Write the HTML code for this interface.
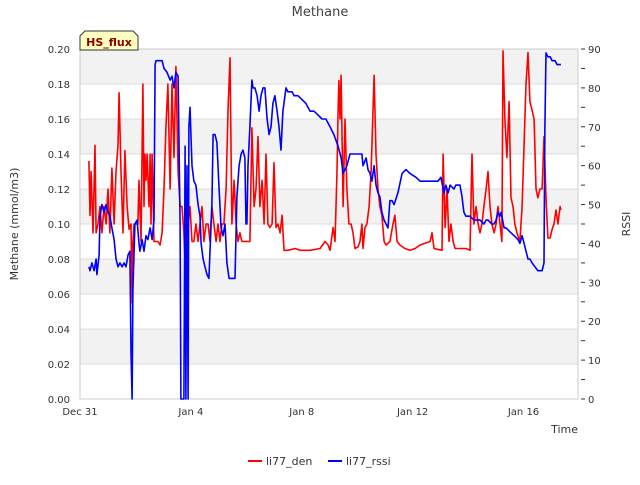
<!DOCTYPE html>
<html><head><meta charset="utf-8"><style>
body{margin:0;background:#fff;font-family:"Liberation Sans","DejaVu Sans",sans-serif}
svg text{font-family:"DejaVu Sans","Liberation Sans",sans-serif}
</style></head><body>
<svg id="chart" width="640" height="480" xmlns="http://www.w3.org/2000/svg">
<text x="320" y="16" text-anchor="middle" font-size="13" fill="#444">Methane</text>
<g id="bands"></g>
<g id="grid"></g>
<g id="axes"></g>
<g id="series"></g>
<text transform="translate(18,224) rotate(-90)" text-anchor="middle" font-size="11" fill="#333">Methane (mmol/m3)</text>
<text transform="translate(630,224) rotate(-90)" text-anchor="middle" font-size="11" fill="#333">RSSI</text>
<text x="578" y="433" text-anchor="end" font-size="11" fill="#333">Time</text>
<g>
<path d="M80,50 L80,36 L85,31 L133,31 L138,36 L138,50 Z" fill="#ffffc0" stroke="#333" stroke-width="1"/>
<text x="109" y="46" text-anchor="middle" font-size="11" font-weight="bold" fill="#8b0000">HS_flux</text>
</g>
<g>
<line x1="248" y1="461" x2="262" y2="461" stroke="#f00" stroke-width="2"/>
<text x="266" y="465" font-size="11" fill="#333">li77_den</text>
</g>
<g>
<line x1="328" y1="461" x2="342" y2="461" stroke="#00f" stroke-width="2"/>
<text x="346" y="465" font-size="11" fill="#333">li77_rssi</text>
</g>
</svg>
<script>
const xTickLabels=["Dec 31","Jan 4","Jan 8","Jan 12","Jan 16"];
const xTickDays=[0,4,8,12,16];
const leftTicks=[0,0.02,0.04,0.06,0.08,0.10,0.12,0.14,0.16,0.18,0.20];
const rightTicks=[0,10,20,30,40,50,60,70,80,90];
const denDays=[0.32,0.36,0.40,0.47,0.54,0.58,0.65,0.72,0.79,0.87,0.94,1.01,1.08,1.15,1.23,1.30,1.37,1.41,1.48,1.55,1.62,1.70,1.77,1.84,1.88,1.91,1.95,2.02,2.09,2.13,2.20,2.27,2.31,2.34,2.38,2.42,2.49,2.53,2.56,2.60,2.67,2.74,2.81,2.89,2.96,3.03,3.10,3.17,3.25,3.32,3.39,3.46,3.54,3.61,3.68,3.75,3.82,3.90,3.97,4.04,4.11,4.18,4.26,4.33,4.40,4.47,4.55,4.62,4.69,4.76,4.83,4.91,4.98,5.05,5.12,5.19,5.27,5.34,5.41,5.48,5.56,5.63,5.70,5.77,5.84,5.99,6.13,6.20,6.28,6.35,6.42,6.49,6.57,6.64,6.71,6.78,6.85,6.93,7.00,7.07,7.14,7.22,7.29,7.36,7.50,7.76,7.94,8.30,8.66,8.84,8.95,9.02,9.13,9.20,9.27,9.31,9.34,9.38,9.42,9.49,9.56,9.63,9.70,9.78,9.85,9.92,10.03,10.10,10.17,10.21,10.28,10.35,10.43,10.50,10.61,10.68,10.75,10.82,10.89,10.97,11.04,11.18,11.29,11.36,11.44,11.54,11.72,11.90,12.09,12.27,12.63,12.70,12.77,13.06,13.10,13.17,13.24,13.31,13.38,13.46,13.53,13.92,14.07,14.14,14.21,14.29,14.36,14.43,14.50,14.57,14.65,14.72,14.79,14.86,14.94,15.01,15.08,15.15,15.22,15.26,15.33,15.40,15.48,15.55,15.62,15.69,15.76,15.87,15.95,16.09,16.16,16.23,16.31,16.38,16.45,16.52,16.59,16.67,16.74,16.81,16.88,16.96,17.03,17.10,17.17,17.24,17.32,17.35];
const denValues=[0.136,0.105,0.13,0.095,0.145,0.095,0.10,0.11,0.095,0.11,0.10,0.12,0.095,0.132,0.10,0.13,0.145,0.175,0.13,0.095,0.142,0.11,0.097,0.10,0.055,0.09,0.10,0.10,0.10,0.125,0.09,0.18,0.11,0.14,0.125,0.14,0.11,0.14,0.10,0.14,0.09,0.09,0.09,0.088,0.095,0.12,0.155,0.18,0.12,0.18,0.138,0.19,0.13,0.11,0.11,0.095,0.063,0.10,0.11,0.09,0.09,0.10,0.09,0.10,0.11,0.09,0.10,0.10,0.09,0.11,0.10,0.09,0.10,0.09,0.10,0.10,0.12,0.165,0.195,0.10,0.125,0.10,0.09,0.095,0.09,0.09,0.09,0.155,0.11,0.12,0.15,0.11,0.125,0.10,0.14,0.10,0.098,0.10,0.135,0.098,0.10,0.095,0.105,0.085,0.085,0.086,0.085,0.085,0.086,0.09,0.088,0.085,0.098,0.09,0.13,0.165,0.182,0.16,0.185,0.11,0.16,0.12,0.10,0.10,0.095,0.086,0.087,0.09,0.10,0.086,0.098,0.10,0.11,0.13,0.185,0.14,0.12,0.11,0.105,0.09,0.088,0.09,0.10,0.105,0.09,0.088,0.086,0.085,0.086,0.088,0.09,0.095,0.086,0.085,0.14,0.098,0.12,0.09,0.10,0.09,0.086,0.086,0.085,0.14,0.10,0.11,0.10,0.095,0.10,0.11,0.12,0.13,0.11,0.10,0.095,0.10,0.11,0.10,0.09,0.199,0.16,0.138,0.17,0.115,0.11,0.10,0.095,0.09,0.11,0.18,0.198,0.17,0.165,0.16,0.12,0.115,0.12,0.12,0.15,0.115,0.092,0.092,0.097,0.10,0.108,0.10,0.11,0.108];
const rssiDays=[0.32,0.36,0.43,0.51,0.58,0.61,0.69,0.72,0.79,0.87,0.94,1.01,1.08,1.15,1.23,1.30,1.37,1.44,1.52,1.59,1.66,1.73,1.80,1.84,1.88,1.91,1.98,2.06,2.13,2.16,2.24,2.31,2.38,2.45,2.53,2.60,2.67,2.71,2.74,2.96,3.03,3.14,3.25,3.32,3.39,3.46,3.54,3.61,3.64,3.75,3.79,3.82,3.86,3.90,3.93,3.97,4.04,4.11,4.18,4.26,4.33,4.37,4.44,4.51,4.58,4.65,4.76,4.80,4.87,4.94,5.01,5.09,5.16,5.23,5.30,5.38,5.59,5.66,5.74,5.81,5.88,5.95,5.99,6.02,6.06,6.13,6.20,6.24,6.31,6.39,6.46,6.53,6.60,6.67,6.75,6.82,6.89,6.96,7.03,7.11,7.18,7.25,7.32,7.43,7.50,7.65,7.72,7.86,8.01,8.15,8.30,8.44,8.59,8.73,8.87,9.02,9.16,9.31,9.42,9.49,9.63,9.74,10.17,10.21,10.32,10.39,10.46,10.53,10.61,10.68,10.75,10.82,10.89,10.97,11.04,11.11,11.18,11.26,11.33,11.47,11.62,11.76,11.90,12.12,12.27,12.91,13.02,13.13,13.20,13.28,13.35,13.49,13.56,13.71,13.78,13.85,13.92,14.07,14.21,14.43,14.57,14.65,14.72,14.86,14.94,15.01,15.08,15.15,15.19,15.30,15.37,15.51,15.66,15.80,15.87,15.95,16.02,16.09,16.16,16.23,16.31,16.41,16.52,16.67,16.74,16.77,16.81,16.88,16.96,17.03,17.14,17.21,17.35];
const rssiValues=[34,33,35,33,36,32,37,47,50,48,50,48,47,44,41,36,34,35,34,35,34,37,38,12,0,28,45,46,40,38,41,38,42,41,44,41,46,86,87,87,85,84,82,83,80,84,83,45,0,0,65,0,60,0,70,75,60,56,55,50,47,40,36,34,32,31,50,68,68,66,55,44,42,45,35,31,31,52,60,63,64,62,45,45,60,70,82,80,80,78,74,78,80,80,72,68,70,76,78,74,70,64,74,80,79,79,78,78,77,76,74,74,73,72,72,70,68,65,62,58,60,63,63,60,62,59,58,56,60,55,53,52,48,46,45,44,51,51,50,53,58,59,58,57,56,56,57,53,55,53,55,54,55,55,52,48,47,47,46,46,45,46,46,45,45,46,48,47,48,44,44,43,42,41,40,42,40,38,36,36,35,34,33,33,35,70,89,88,88,87,87,86,86];

const NS="http://www.w3.org/2000/svg";
const L=80,R=578,T=49,B=399;
const dayPx=27.72;
const xS=d=>L+d*dayPx;
const yL=v=>B-(v/0.2)*(B-T);
const yR=v=>B-(v/90)*(B-T);
function mk(tag,attrs,parent){const e=document.createElementNS(NS,tag);for(const k in attrs)e.setAttribute(k,attrs[k]);parent.appendChild(e);return e;}
const bands=document.getElementById('bands'),grid=document.getElementById('grid'),axes=document.getElementById('axes'),series=document.getElementById('series');
for(let i=0;i<10;i++){
  const r=mk('rect',{x:L,y:yL(0.02*(i+1)),width:R-L,height:yL(0)-yL(0.02),fill:(i%2==0)?'#ffffff':'#f2f2f2'},bands);
  
  
}
leftTicks.forEach(v=>{
  const y=yL(v);
  const g=mk('line',{x1:L,y1:y,x2:R,y2:y,stroke:'#dcdcdc','stroke-width':1},grid);
  
  
  const t=mk('text',{x:L-10,y:y+4,'text-anchor':'end','font-size':10,fill:'#333'},axes);
  t.textContent=v.toFixed(2);
  
  
});
rightTicks.forEach(v=>{
  const y=yR(v);
  const tk=mk('line',{x1:R+3,y1:y,x2:R+7,y2:y,stroke:'#333'},axes);
  
  
  if(v<90){const m=mk('line',{x1:R+3,y1:yR(v+5),x2:R+7,y2:yR(v+5),stroke:'#333'},axes);
  
  }
  const t=mk('text',{x:R+10,y:y+4,'font-size':10,fill:'#333'},axes);
  t.textContent=v;
  
  
});
const frame=mk('rect',{x:L,y:T,width:R-L,height:B-T,fill:'none',stroke:'#ccc'},axes);


xTickDays.forEach((d,i)=>{
  const t=mk('text',{x:xS(d),y:B+16,'text-anchor':'middle','font-size':10,fill:'#333'},axes);
  t.textContent=xTickLabels[i];
  
  
});
const denPath=mk('path',{d:denDays.map((d,i)=>(i?'L':'M')+xS(d).toFixed(1)+','+yL(denValues[i]).toFixed(1)).join(''),fill:'none',stroke:'#f00','stroke-width':1.6,'stroke-linejoin':'round'},series);


const rssiPath=mk('path',{d:rssiDays.map((d,i)=>(i?'L':'M')+xS(d).toFixed(1)+','+yR(rssiValues[i]).toFixed(1)).join(''),fill:'none',stroke:'#00f','stroke-width':1.6,'stroke-linejoin':'round'},series);


</script>
</body></html>
